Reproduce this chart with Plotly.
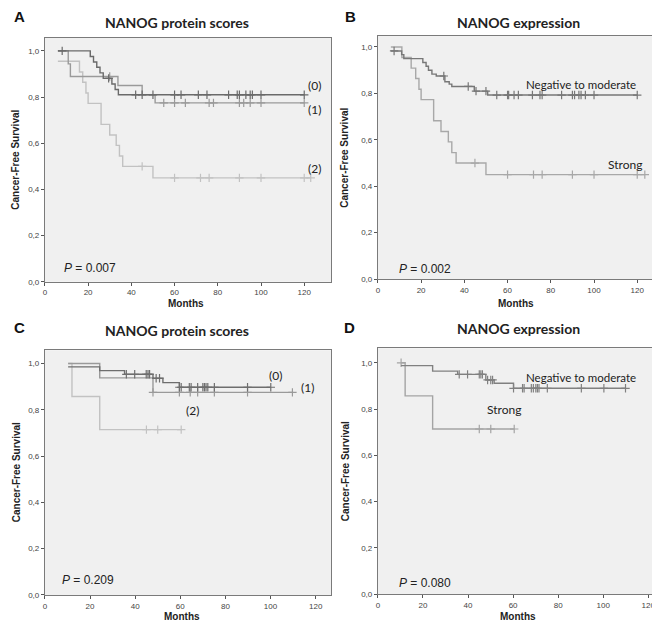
import numpy as np
import plotly.graph_objects as go

# ---------------- DATA ----------------
# Panel A: NANOG protein scores (0), (1), (2)
A0_t = [6, 21, 22.5, 24, 25.5, 27, 31, 32.5, 34, 120]
A0_s = [1.0, 0.976, 0.952, 0.929, 0.905, 0.881, 0.857, 0.833, 0.81, 0.81]
A0_c = [8, 29.5, 42, 45, 50, 60, 63, 71, 75, 85, 89, 90, 93, 95, 96, 100, 120]

A1_t = [6, 10.8, 11.8, 33.8, 45, 51, 120]
A1_s = [1.0, 0.944, 0.889, 0.85, 0.81, 0.775, 0.775]
A1_c = [30, 55, 60, 65, 76, 78, 90, 92, 95, 100, 120]

A2_t = [6, 16, 17.5, 19, 20, 26, 30, 33, 34.5, 36, 50, 123]
A2_s = [0.955, 0.909, 0.864, 0.818, 0.773, 0.682, 0.636, 0.591, 0.545, 0.5, 0.45, 0.45]
A2_c = [45, 60, 72, 76, 90, 100, 120, 123]

# Panel B: NANOG expression
B0_t = [6, 11, 12, 20.8, 22.3, 23.4, 25, 27, 31, 33, 34.2, 44.6, 50.8, 120]
B0_s = [0.983, 0.967, 0.95, 0.933, 0.917, 0.9, 0.883, 0.875, 0.85, 0.84, 0.83, 0.81, 0.793, 0.793]
B0_c = [7.5, 30.5, 41.8, 45.4, 50, 55, 60, 60.5, 63, 65, 71.5, 75, 76, 85, 90, 91, 93, 94, 96, 100, 120]

B1_t = [6, 11.1, 15.4, 17.5, 19, 20, 25.8, 29.2, 32.6, 34.2, 36.2, 50, 123.5]
B1_s = [1.0, 0.955, 0.909, 0.864, 0.818, 0.773, 0.682, 0.636, 0.591, 0.545, 0.5, 0.45, 0.45]
B1_c = [44.9, 60, 72, 76, 90, 100, 120, 123.5]

# Panel C: NANOG protein scores
C0_t = [10.3, 24.3, 35.3, 47.9, 52.3, 59.6, 100.1]
C0_s = [0.985, 0.969, 0.953, 0.936, 0.917, 0.897, 0.897]
C0_c = [36.1, 39.8, 44.9, 45.7, 46.4, 49.3, 50.8, 59.6, 60.4, 64, 64.8, 67.7, 70, 70.7, 71.4, 72.2, 75.1, 89.8, 100.1]

C1_t = [10.3, 24.3, 47.9, 109.7]
C1_s = [1.0, 0.9375, 0.875, 0.875]
C1_c = [47.9, 59.6, 64.4, 67.7, 75.1, 89.8, 109.7]

C2_t = [10.3, 12, 24.3, 60.4]
C2_s = [1.0, 0.857, 0.714, 0.714]
C2_c = [45, 50, 60.4]

# Panel D: NANOG expression
D0_t = [10.3, 24.3, 35.4, 47.9, 51.6, 60.2, 109.9]
D0_s = [0.988, 0.964, 0.95, 0.926, 0.912, 0.89, 0.89]
D0_c = [36.1, 39.8, 45, 45.7, 46.4, 48.7, 50.1, 50.9, 60.2, 64.2, 64.9, 68.1, 69, 70.1, 70.8, 71.5, 75.2, 90.3, 100.3, 109.9]

D1_t = [10.3, 12.1, 24.3, 60.5]
D1_s = [1.0, 0.857, 0.714, 0.714]
D1_c = [10.3, 45, 50.1, 60.5]

Y_TICKS = [0, 0.2, 0.4, 0.6, 0.8, 1.0]
Y_TICKTEXT = ["0,0", "0,2", "0,4", "0,6", "0,8", "1,0"]
X_TICKS = [0, 20, 40, 60, 80, 100, 120]

# ---------------- FIGURE ----------------
W, H = 660, 622
def px(x):
    return x / W
def py(y):
    return 1 - y / H

fig = go.Figure()

panels = {
    "A": dict(xd=[35, 322], yd=[30, 276], xr=[0, 132.4], yr=[0, 1.057]),
    "B": dict(xd=[369, 653], yd=[28.3, 273.3], xr=[0, 131], yr=[0, 1.047]),
    "C": dict(xd=[35, 322], yd=[345, 591.7], xr=[0, 126.8], yr=[0, 1.057]),
    "D": dict(xd=[369, 654], yd=[343, 591], xr=[0, 126.1], yr=[0, 1.063]),
}
axis_ids = {"A": ("x", "y"), "B": ("x2", "y2"), "C": ("x3", "y3"), "D": ("x4", "y4")}

def step_val(t, s, c):
    idx = np.searchsorted(np.array(t), np.array(c), side="right") - 1
    idx = np.clip(idx, 0, len(s) - 1)
    return list(np.array(s)[idx])

def add_curve(panel, t, s, c, color, width=1.4):
    xa, ya = axis_ids[panel]
    fig.add_trace(go.Scatter(x=t, y=s, mode="lines", line=dict(color=color, width=width, shape="hv"),
                             xaxis=xa, yaxis=ya, showlegend=False, hoverinfo="skip"))
    fig.add_trace(go.Scatter(x=c, y=step_val(t, s, c), mode="markers",
                             marker=dict(symbol="cross-thin", size=6, line=dict(color=color, width=1.2)),
                             xaxis=xa, yaxis=ya, showlegend=False, hoverinfo="skip"))

add_curve("A", A2_t, A2_s, A2_c, "#c2c2c2")
add_curve("A", A1_t, A1_s, A1_c, "#9a9a9a")
add_curve("A", A0_t, A0_s, A0_c, "#6a6a6a")
add_curve("B", B1_t, B1_s, B1_c, "#a8a8a8")
add_curve("B", B0_t, B0_s, B0_c, "#777777")
add_curve("C", C2_t, C2_s, C2_c, "#c2c2c2")
add_curve("C", C1_t, C1_s, C1_c, "#9a9a9a")
add_curve("C", C0_t, C0_s, C0_c, "#6e6e6e")
add_curve("D", D1_t, D1_s, D1_c, "#a4a4a4")
add_curve("D", D0_t, D0_s, D0_c, "#808080")

layout = dict(width=W, height=H, margin=dict(l=0, r=0, t=0, b=0),
              paper_bgcolor="white", plot_bgcolor="#f0f0f0", showlegend=False)

tickfont = dict(family="Liberation Sans, Arial", size=8, color="#444444")
for i, key in enumerate(["A", "B", "C", "D"]):
    p = panels[key]
    sfx = "" if i == 0 else str(i + 1)
    layout["xaxis" + sfx] = dict(
        domain=[px(p["xd"][0]), px(p["xd"][1])], range=p["xr"], anchor="y" + sfx,
        tickvals=X_TICKS, ticks="outside", ticklen=3, tickcolor="#555555",
        showline=True, linecolor="#7a7a7a", linewidth=1, mirror=True,
        showgrid=False, zeroline=False, tickfont=tickfont, fixedrange=True)
    layout["yaxis" + sfx] = dict(
        domain=[py(p["yd"][1]), py(p["yd"][0])], range=p["yr"], anchor="x" + sfx,
        tickvals=Y_TICKS, ticktext=Y_TICKTEXT, ticks="outside", ticklen=3, tickcolor="#555555",
        showline=True, linecolor="#7a7a7a", linewidth=1, mirror=True,
        showgrid=False, zeroline=False, tickfont=tickfont, fixedrange=True)

fig.update_layout(**layout)

ann = []
def A_(x, y, text, size, bold=False, family="Lato, Open Sans", color="#222222", xanchor="center", angle=0):
    ann.append(dict(x=px(x), y=py(y), xref="paper", yref="paper", text=("<b>%s</b>" % text) if bold else text,
                    showarrow=False, xanchor=xanchor, yanchor="middle", textangle=angle,
                    font=dict(family=family, size=size, color=color)))

# panel letters
for lt, (x, y) in {"A": (10, 9), "B": (342, 9), "C": (10, 322), "D": (341, 322)}.items():
    A_(x, y, lt, 15, bold=True, family="Liberation Sans, Arial", color="#111111")
# titles
A_(168, 15, "NANOG protein scores", 14, bold=True)
A_(510, 15, "NANOG expression", 14, bold=True)
A_(168, 325, "NANOG protein scores", 14, bold=True)
A_(510, 323, "NANOG expression", 14, bold=True)
# axis titles
for x, y in [(177, 298), (508, 298), (173, 613), (510, 613)]:
    A_(x, y, "Months", 10, bold=True, family="Liberation Sans, Arial")
for x, y in [(6, 153), (336, 151), (6, 468), (336, 467)]:
    A_(x, y, "Cancer-Free Survival", 10, bold=True, family="Liberation Sans, Arial", angle=-90)
# group labels
A_(305, 78, "(0)", 12)
A_(305, 102, "(1)", 12)
A_(305, 162, "(2)", 12)
A_(573, 77, "Negative to moderate", 11.5)
A_(617, 158, "Strong", 12)
A_(266, 370, "(0)", 12)
A_(298, 383, "(1)", 12)
A_(183, 406, "(2)", 12)
A_(573, 372, "Negative to moderate", 11.5)
A_(496, 405, "Strong", 12)
# p-values
A_(52, 262, "<i>P</i> = 0.007", 12, family="Liberation Sans, Arial", xanchor="left")
A_(388, 263, "<i>P</i> = 0.002", 12, family="Liberation Sans, Arial", xanchor="left")
A_(50, 577, "<i>P</i> = 0.209", 12, family="Liberation Sans, Arial", xanchor="left")
A_(388, 580, "<i>P</i> = 0.080", 12, family="Liberation Sans, Arial", xanchor="left")

fig.update_layout(annotations=ann)
fig.write_html("out.html")
